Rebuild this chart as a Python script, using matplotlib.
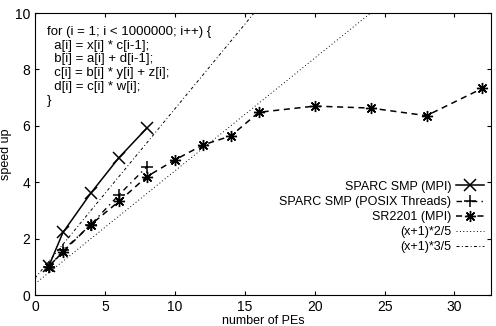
import matplotlib.pyplot as plt
import numpy as np

plt.rcParams['font.family'] = ['Liberation Sans', 'DejaVu Sans']

# data
mpi_x = [1, 2, 4, 6, 8]
mpi_y = [1.04, 2.22, 3.62, 4.87, 5.92]

posix_x = [1, 2, 4, 6, 8]
posix_y = [1.0, 1.58, 2.5, 3.55, 4.55]

sr_x = [1, 2, 4, 6, 8, 10, 12, 14, 16, 20, 24, 28, 32]
sr_y = [1.0, 1.54, 2.5, 3.32, 4.2, 4.79, 5.32, 5.64, 6.48, 6.7, 6.63, 6.36, 7.33]

code = ("for (i = 1; i < 1000000; i++) {\n"
        "  a[i] = x[i] * c[i-1];\n"
        "  b[i] = a[i] + d[i-1];\n"
        "  c[i] = b[i] * y[i] + z[i];\n"
        "  d[i] = c[i] * w[i];\n"
        "}")

fig = plt.figure(figsize=(4.96, 3.26), dpi=100)
ax = fig.add_axes([0.0706, 0.095, 0.919, 0.865])

ax.plot(mpi_x, mpi_y, color='black', lw=1.1, marker='x', ms=8, mew=1.1,
        label='SPARC SMP (MPI)')
ax.plot(posix_x, posix_y, color='black', lw=1.0, ls=(0, (4, 3, 1, 3)), marker='+',
        ms=9, mew=1.1, label='SPARC SMP (POSIX Threads)')
ax.plot(sr_x, sr_y, color='black', lw=1.1, ls=(0, (4, 3)), marker=(8, 2, 0),
        ms=8, mew=1.0, label='SR2201 (MPI)')

xs = np.linspace(0, 33, 200)
ax.plot(xs, (xs + 1) * 2 / 5, color='black', lw=0.7, ls=(0, (1, 2.5)),
        label='(x+1)*2/5')
ax.plot(xs, (xs + 1) * 3 / 5, color='black', lw=0.7, ls=(0, (3, 2.5, 1, 2.5)),
        label='(x+1)*3/5')

ax.text(0.85, 9.55, code, fontsize=9.5, va='top', ha='left', linespacing=1.2)

ax.set_xlim(0, 32.6)
ax.set_ylim(0, 10)
ax.set_xticks([0, 5, 10, 15, 20, 25, 30])
ax.set_yticks([0, 2, 4, 6, 8, 10])
ax.tick_params(direction='in', top=True, right=True, labelsize=10, length=3)
ax.set_xlabel('number of PEs', fontsize=9, labelpad=1)
ax.set_ylabel('speed up', fontsize=9, labelpad=2)

ax.legend(loc='lower right', bbox_to_anchor=(0.995, 0.13), frameon=False,
          markerfirst=False, fontsize=9, handlelength=2.2, handletextpad=0.4,
          labelspacing=0.25, borderaxespad=0)

fig.savefig('out.png', dpi=100)
